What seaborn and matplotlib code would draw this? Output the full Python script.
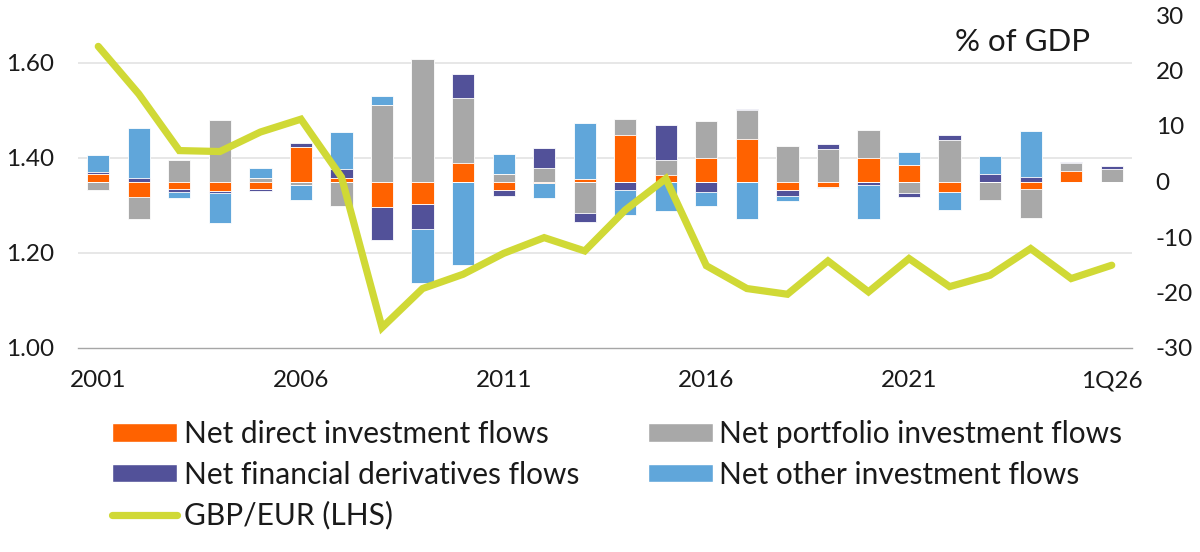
import numpy as np
import pandas as pd
import matplotlib
matplotlib.use("Agg")
import matplotlib.pyplot as plt
import matplotlib.transforms as mtransforms
from matplotlib.patches import Patch
from matplotlib.lines import Line2D
import seaborn as sns

# ---------------- data ----------------
categories = [str(y) for y in range(2001, 2026)] + ["1Q26"]
tick_labels = ["2001", "2006", "2011", "2016", "2021", "1Q26"]

direct = [1.3, -2.75, -1.3, -1.75, -1.3, 6.3, 0.55, -4.55, -4.1, 3.3,
          -1.55, -0.2, 0.4, 8.4, 1.15, 4.2, 7.6, -1.45, -1.0, 4.3,
          3.0, -1.85, -0.15, -1.35, 1.9, -0.15]
portfolio = [-1.45, -3.95, 3.9, 11.1, 0.55, -0.6, -4.4, 13.8, 22.0, 11.7,
             1.3, 2.4, -5.7, 2.95, 2.75, 6.7, 5.2, 6.4, 5.9, 5.0,
             -2.0, 7.5, -3.2, -5.3, 1.4, 2.2]
derivatives = [0.35, 0.6, -0.65, -0.35, -0.5, 0.55, 1.7, -6.0, -4.5, 4.3,
               -1.0, 3.65, -1.55, -1.5, 6.2, -1.85, 0.2, -1.2, 0.8, -0.65,
               -0.8, 0.85, 1.35, 0.85, 0.3, 0.55]
other = [3.05, 9.1, -1.0, -5.3, 1.9, -2.8, 6.6, 1.55, -9.6, -15.0,
         3.65, -2.75, 10.1, -4.45, -5.4, -2.65, -6.7, -0.8, -0.15, -6.05,
         2.4, -3.3, 3.25, 8.25, 0.0, 0.0]
gbp_eur = [1.634, 1.534, 1.415, 1.413, 1.454, 1.481, 1.359, 1.043, 1.125, 1.155,
           1.199, 1.232, 1.204, 1.290, 1.356, 1.173, 1.125, 1.113, 1.183, 1.118,
           1.188, 1.129, 1.153, 1.209, 1.146, 1.174]

series_names = ["Net direct investment flows", "Net portfolio investment flows",
                "Net financial derivatives flows", "Net other investment flows"]
series_vals = [direct, portfolio, derivatives, other]
series_colors = ["#FF6200", "#A8A8A8", "#525199", "#60A6DA"]
line_color = "#D0D936"

# ---------------- style ----------------
sns.set_style("white")
plt.rcParams["font.family"] = ["Lato", "DejaVu Sans"]
text_color = "#1A1A1A"

fig = plt.figure(figsize=(12, 5.52), dpi=100)
ax = fig.add_axes([78 / 1200, 1 - 348 / 552, (1132 - 78) / 1200, (348 - 15) / 552])
ax2 = ax.twinx()

ax.set_ylim(-30, 30)
ax2.set_ylim(1.0, 1.7)

# gridlines (left-axis values) drawn behind the bars
blend = mtransforms.blended_transform_factory(ax.transAxes, ax2.transData)
for v in [1.2, 1.4, 1.6]:
    ax.plot([0, 1], [v, v], transform=blend, color="#E3E3E3", lw=1.2, zorder=0.5)

# stacked bars via overlay of cumulative sums
arr = np.array(series_vals)
pos = np.clip(arr, 0, None)
neg = np.clip(arr, None, 0)
pos_cum = np.cumsum(pos, axis=0)
neg_cum = np.cumsum(neg, axis=0)
for k in range(3, -1, -1):
    for cum in (pos_cum, neg_cum):
        df = pd.DataFrame({"cat": categories, "val": cum[k]})
        sns.barplot(data=df, x="cat", y="val", order=categories, ax=ax,
                    color=series_colors[k], saturation=1, width=0.55,
                    edgecolor="white", linewidth=0.6, zorder=2)

# GBP/EUR line
sns.lineplot(x=np.arange(len(categories)), y=gbp_eur, ax=ax2,
             color=line_color, lw=5.2, solid_capstyle="round",
             solid_joinstyle="miter", zorder=5)

ax.set_xlim(-0.5, len(categories) - 0.5)
ax.set_ylim(-30, 30)
ax2.set_ylim(1.0, 1.7)

# axes sides
ax.yaxis.tick_right()
ax2.yaxis.tick_left()
ax.set_yticks(np.arange(-30, 31, 10))
ax.set_yticklabels([str(t) for t in range(-30, 31, 10)])
ax2.set_yticks([1.0, 1.2, 1.4, 1.6])
ax2.set_yticklabels(["1.00", "1.20", "1.40", "1.60"])

ax.set_xticks([categories.index(c) for c in tick_labels])
ax.set_xticklabels(tick_labels)
ax.set_xticks(np.arange(-0.5, len(categories), 1), minor=True)
ax.tick_params(axis="x", which="major", length=0, pad=16, labelsize=17.5, labelcolor=text_color)
ax.tick_params(axis="x", which="minor", length=8, width=1, color="#A6A6A6", direction="out")
ax.tick_params(axis="y", which="both", length=0, pad=17, labelsize=17.5, labelcolor=text_color,
               right=True, left=False, labelright=True, labelleft=False)
ax2.tick_params(axis="y", which="both", length=0, pad=17, labelsize=17.5, labelcolor=text_color,
                left=True, right=False, labelleft=True, labelright=False)
ax.set_xlabel("")
ax.set_ylabel("")
ax2.set_ylabel("")
ax2.set_xlabel("")

for a in (ax, ax2):
    for s in ["top", "left", "right", "bottom"]:
        a.spines[s].set_visible(False)
ax.spines["bottom"].set_visible(True)
ax.spines["bottom"].set_color("#A6A6A6")
ax.spines["bottom"].set_linewidth(1)

ax.text(0.96, 0.919, "% of GDP", transform=ax.transAxes, ha="right", va="center",
        fontsize=22.5, color=text_color)

# legend
h = [Patch(facecolor=series_colors[0], edgecolor="white", label=series_names[0]),
     Patch(facecolor=series_colors[2], edgecolor="white", label=series_names[2]),
     Line2D([0], [0], color=line_color, lw=5.2, solid_capstyle="round", label="GBP/EUR (LHS)"),
     Patch(facecolor=series_colors[1], edgecolor="white", label=series_names[1]),
     Patch(facecolor=series_colors[3], edgecolor="white", label=series_names[3])]
leg = fig.legend(handles=h, loc="upper left", bbox_to_anchor=(112 / 1200, 1 - 420 / 552),
                 ncol=2, frameon=False, fontsize=21.5, handlelength=2.17, handleheight=0.6,
                 handletextpad=0.23, columnspacing=2.3, labelspacing=0.42,
                 borderpad=0, borderaxespad=0)
for t in leg.get_texts():
    t.set_color(text_color)

fig.savefig("out.png", dpi=100)
